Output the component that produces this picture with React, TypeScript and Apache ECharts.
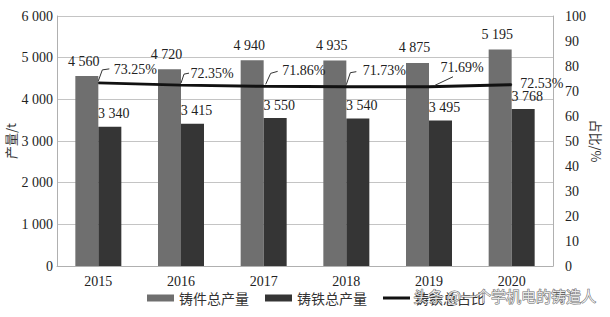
import React, { useEffect, useRef } from "react";
import * as echarts from "echarts";

const years = ["2015", "2016", "2017", "2018", "2019", "2020"];
const castingTotal = [4560, 4720, 4940, 4935, 4875, 5195];
const ironTotal = [3340, 3415, 3550, 3540, 3495, 3768];
const ironShare = [73.25, 72.35, 71.86, 71.73, 71.69, 72.53];
const leftTicks = [0, 1000, 2000, 3000, 4000, 5000, 6000];

// pixel offsets of the percentage labels (style only)
const shareLabelShift = [
  [10, -13],
  [4, -12],
  [13, -16],
  [11, -16],
  [6, -19],
  [3, -1],
];
// pixel offsets of the leader lines relative to each point (style only)
const leaderShape: number[][][] = [
  [[0, -2], [4, -13], [11, -14]],
  [[0, -2], [3, -11], [8, -12]],
  [[2, -2], [7, -13], [14, -15]],
  [[0, -2], [4, -14], [10, -15]],
  [[5, -1], [24, -10]],
  [],
];

const SERIF = '"Liberation Serif", "Noto Sans CJK SC", serif';
const CJK = '"Noto Sans CJK SC", "Liberation Serif", sans-serif';

const fmt = (v: number) => {
  const s = String(v);
  return s.length > 3 ? s.slice(0, s.length - 3) + " " + s.slice(-3) : s;
};

export default function App() {
  const ref = useRef<HTMLDivElement>(null);
  useEffect(() => {
    if (!ref.current) return;
    const chart = echarts.init(ref.current, undefined, { renderer: "svg" });
    chart.setOption({
      animation: false,
      backgroundColor: "#ffffff",
      grid: {
        left: 57,
        right: 57,
        top: 16,
        bottom: 51,
        containLabel: false,
        outerBoundsMode: "none",
      },
      legend: {
        left: 142,
        top: 286,
        itemWidth: 27,
        itemHeight: 7,
        itemGap: 16,
        textStyle: { fontFamily: CJK, fontSize: 14, color: "#333" },
        data: [
          { name: "铸件总产量", icon: "rect" },
          { name: "铸铁总产量", icon: "rect" },
          { name: "铸铁总占比", icon: "path://M0,2H27V5H0Z", itemStyle: { color: "#111" } },
        ],
      },
      xAxis: {
        type: "category",
        data: years,
        axisLine: { lineStyle: { color: "#b0b0b0", width: 1 } },
        axisTick: { show: false },
        axisLabel: { fontFamily: SERIF, fontSize: 14, color: "#222", margin: 8 },
      },
      yAxis: [
        {
          type: "value",
          min: 0,
          max: 6000,
          interval: 1000,
          name: "产量/t",
          nameLocation: "middle",
          nameGap: 40,
          nameRotate: 90,
          nameMoveOverlap: false,
          nameTextStyle: { fontFamily: CJK, fontSize: 13, color: "#333" },
          axisLine: { show: true, lineStyle: { color: "#b0b0b0" } },
          axisTick: { show: false },
          splitLine: { lineStyle: { color: "#c4c4c4", width: 1 } },
          axisLabel: {
            fontFamily: SERIF,
            fontSize: 14,
            color: "#222",
            margin: 4,
            formatter: (v: number) => (leftTicks.includes(v) ? fmt(v) : ""),
          },
        },
        {
          type: "value",
          min: 0,
          max: 100,
          interval: 10,
          name: "占比/%",
          nameLocation: "middle",
          nameGap: 37,
          nameRotate: -90,
          nameMoveOverlap: false,
          nameTextStyle: { fontFamily: CJK, fontSize: 13, color: "#333" },
          axisLine: { show: true, lineStyle: { color: "#b0b0b0" } },
          axisTick: { show: false },
          splitLine: { show: false },
          axisLabel: { fontFamily: SERIF, fontSize: 14, color: "#222", margin: 12 },
        },
      ],
      series: [
        {
          name: "铸件总产量",
          type: "bar",
          data: castingTotal,
          barWidth: 23,
          barGap: "0%",
          itemStyle: { color: "#6f6f6f" },
          label: {
            show: true,
            position: "top",
            distance: 8,
            offset: [-3, 0],
            fontFamily: SERIF,
            fontSize: 14,
            color: "#222",
            formatter: (p: any) => fmt(p.value),
          },
          z: 2,
        },
        {
          name: "铸铁总产量",
          type: "bar",
          data: ironTotal,
          barWidth: 23,
          itemStyle: { color: "#353535" },
          label: {
            show: true,
            position: "top",
            distance: 6,
            offset: [4, 0],
            fontFamily: SERIF,
            fontSize: 14,
            color: "#222",
            formatter: (p: any) => fmt(p.value),
          },
          z: 2,
        },
        {
          name: "铸铁总占比",
          type: "line",
          yAxisIndex: 1,
          data: ironShare.map((v, i) => ({
            value: v,
            label: { offset: shareLabelShift[i] },
          })),
          symbol: "circle",
          showSymbol: true,
          symbolSize: 1,
          lineStyle: { color: "#111", width: 3 },
          itemStyle: { color: "#111" },
          z: 5,
          label: {
            show: true,
            position: "right",
            distance: 5,
            fontFamily: SERIF,
            fontSize: 14,
            color: "#222",
            formatter: (p: any) => Number(p.value).toFixed(2) + "%",
          },
        },
        {
          name: "leaders",
          type: "custom",
          yAxisIndex: 1,
          data: ironShare.map((v, i) => [i, v]),
          silent: true,
          z: 6,
          renderItem: (params: any, api: any) => {
            const i = params.dataIndex;
            const p = api.coord([api.value(0), api.value(1)]);
            const shape = leaderShape[i];
            if (!shape || shape.length < 2) return null;
            return {
              type: "polyline",
              shape: { points: shape.map((o) => [p[0] + o[0], p[1] + o[1]]) },
              style: { stroke: "#333", lineWidth: 1, fill: "none" },
            };
          },
        },
      ],
      graphic: [
        {
          type: "text",
          left: 413,
          top: 287,
          style: {
            text: "头条 @一个学机电的铸造人",
            fontFamily: CJK,
            fontSize: 15,
            fill: "rgba(255,255,255,0.85)",
            stroke: "rgba(60,60,60,0.8)",
            lineWidth: 1,
          },
          z: 100,
        },
      ],
    });
    return () => chart.dispose();
  }, []);
  return (
    <div
      ref={ref}
      style={{ position: "absolute", left: 0, top: 0, width: 610, height: 317 }}
    />
  );
}
